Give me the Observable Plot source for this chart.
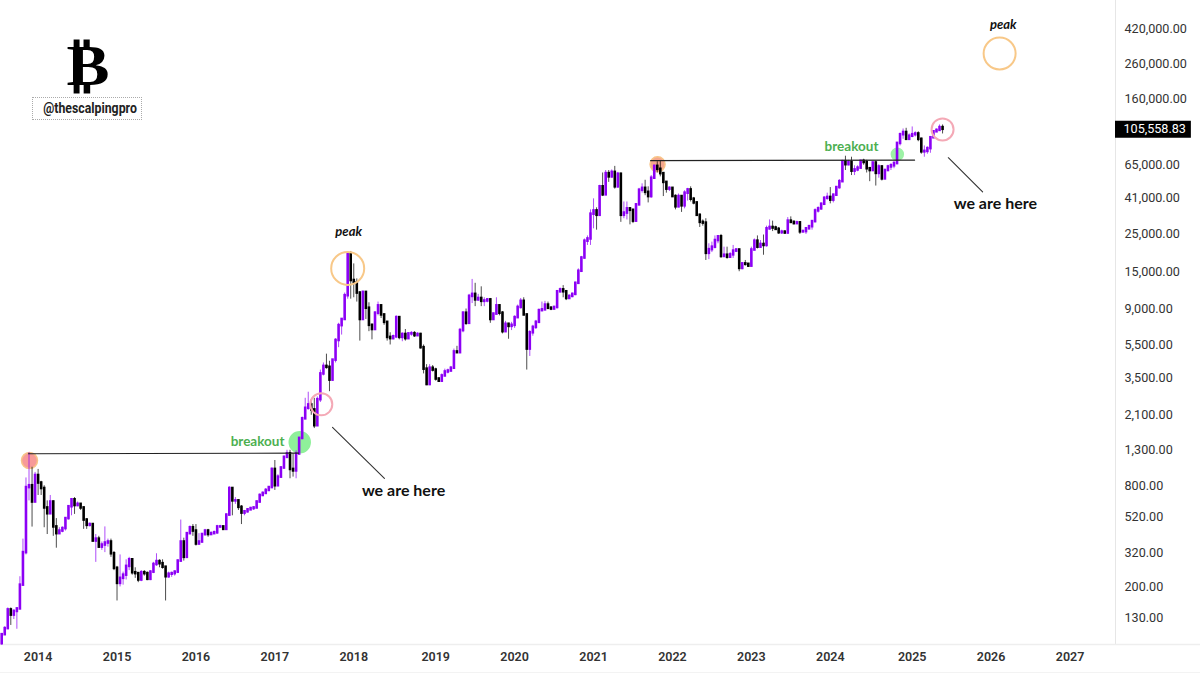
<!DOCTYPE html>
<html><head><meta charset="utf-8">
<script src="https://cdn.jsdelivr.net/npm/d3@7"></script>
<script src="https://cdn.jsdelivr.net/npm/@observablehq/plot@0.6"></script>
<style>
html,body{margin:0;padding:0;background:#fff}
#wrap{position:relative;width:1200px;height:676px;overflow:hidden}
#logo{position:absolute;left:52px;top:39px;width:72px;height:54px;text-align:center;font:700 56px/54px "DejaVu Sans";color:#000;transform:scaleX(1.15)}
#handle{position:absolute;left:32px;top:97px;width:108px;height:21px;border:1px dotted #aaa;text-align:center;font:700 15px/21px "Roboto";color:#222;white-space:nowrap}
#handle span{display:inline-block;transform:scaleX(.82);transform-origin:center}
</style></head><body><div id="wrap"><div id="logo">₿</div><div id="handle"><span>@thescalpingpro</span></div></div>
<script>
const firstOpen = 92;
const closes = [
104,113,146,136,143,148,205,320,780,800,
640,920,830,770,590,545,640,455,415,430,
445,510,600,660,610,620,590,500,465,470,
375,385,345,355,365,370,315,258,210,225,
235,265,290,243,240,220,243,240,222,245,
272,283,275,262,230,238,240,245,285,370,
300,415,450,430,360,370,410,430,410,415,
420,455,455,440,535,770,650,650,595,550,
560,575,585,590,640,700,720,750,780,1000,
800,900,1020,1180,1240,1000,980,1235,1530,2000,
2310,2420,2260,1820,2600,3700,4100,4050,3400,4470,
5850,7170,7800,10800,19000,13300,12900,11200,7800,11300,
9100,7200,6800,8500,9400,8300,7500,6100,6000,6150,
8000,6100,6350,6000,6400,6420,6250,6350,5300,3950,
3200,4000,3900,3450,3350,3600,3800,3850,4000,5000,
4950,6700,8500,7400,10700,11000,10200,10400,10000,10050,
10200,7800,8400,9400,8500,6600,7300,7100,7200,8000,
9200,10000,8300,5200,6500,7000,7500,8800,8900,9500,
9100,9000,9200,11400,11700,11400,10400,10700,11000,12800,
15100,18100,22800,23500,33000,34500,32500,48000,43000,57500,
55000,58500,48000,57000,32500,33500,35500,34800,30000,37500,
45800,47000,44500,42000,54000,63500,61000,57500,51000,46500,
47000,42000,36500,42000,37000,44000,46000,40500,38500,32500,
29500,29200,19300,20300,21000,23000,24200,18500,18800,18300,
18900,19900,20200,15700,16700,16600,16200,20200,22800,21000,
21800,21500,27000,27500,27300,26800,25600,25800,25500,30000,
29500,29000,29300,25900,26000,27000,27800,29800,34500,35500,
37800,41000,41500,40000,42800,47500,51500,67700,65000,67000,
59500,60500,62000,68000,67000,61500,60000,66500,57700,63000,
53500,60000,63000,64000,66000,87000,98000,101000,92000,96000,
98000,99000,92000,77500,78000,81000,94000,102000,104000,108000,105558.83];
const highs = [
105,116,150,150,146,150,230,385,890,1260,
1030,960,1000,850,800,650,700,650,510,450,
455,515,610,670,680,640,625,600,510,480,
475,410,400,370,455,385,385,325,265,310,
245,290,300,295,260,240,250,250,245,250,
280,315,290,290,265,245,245,250,290,500,
390,420,460,470,470,415,415,440,440,425,
430,465,465,460,545,790,780,680,660,610,
570,585,595,600,650,715,735,770,790,1020,
1130,930,1040,1200,1300,1300,1240,1290,1550,2050,
2650,2880,2600,2650,2700,3900,4300,4850,4400,4500,
6000,7400,7900,11200,19600,19800,16700,13600,11400,11500,
11300,9800,7300,8700,9900,9500,8400,7500,6500,6300,
8200,8000,6500,6800,6500,6600,6600,6500,6450,5500,
4200,4200,4150,4000,3500,3700,3950,3950,4100,5200,
5400,6900,8700,9000,11000,13500,12800,11000,12200,10500,
10400,10400,8500,10500,9500,8700,7600,7400,7500,8200,
9500,10400,10500,8400,6700,7200,7700,9000,9900,10000,
9900,9300,9300,11500,12000,12400,11500,10900,11200,13000,
15600,18500,23500,24500,35000,40700,36000,49000,58000,60000,
60000,60500,63500,58500,58000,39000,39000,35600,35000,38000,
47000,50000,52500,48000,56000,64500,67700,68500,58000,51000,
48000,47500,43000,43500,42500,45500,47000,48000,41500,38800,
33000,30500,31000,22000,22500,24500,24500,25000,21000,21000,
19500,21500,20500,20400,17000,17500,16800,21000,23500,24500,
23000,24800,28000,30500,30000,28000,27500,26500,26300,31500,
31800,30000,30000,29500,26500,27500,28300,30000,35500,36500,
38500,42000,44000,47500,43500,48000,53000,69000,73000,69000,
72000,64000,64000,69000,70000,69000,62500,67500,68500,65000,
64000,61000,64500,66000,68000,88000,100000,106000,107000,99000,
109000,102000,102000,93500,84000,83000,95000,103000,106000,112000,112000];
const lows = [
90,104,113,118,128,112,148,205,310,650,
454,640,700,700,450,410,540,400,340,410,
420,430,500,530,540,600,570,440,440,455,
370,280,340,330,320,345,300,250,165,200,
205,220,250,235,225,212,215,232,218,218,
240,265,260,255,165,225,228,232,240,280,
285,300,410,400,350,355,365,400,395,405,
410,410,445,435,435,530,530,620,570,470,
530,550,570,570,585,630,690,710,740,770,
750,790,890,1000,1170,880,900,880,1230,1500,
2000,2250,2100,1750,1800,2500,3600,3950,2900,3350,
4300,5300,6300,7800,10300,10300,10500,9900,5800,7700,
7800,6600,5900,6800,8200,7900,7200,5800,5500,5900,
6000,5900,5750,5800,5950,6200,6100,6200,5200,3700,
3150,3150,3800,3350,3300,3300,3550,3700,3800,3950,
4900,4950,6500,7200,7400,9700,9300,10000,9300,9300,
9800,7400,7700,8300,8200,6400,6600,5950,6700,6900,
7900,9000,8200,3900,4700,6200,6800,7400,8700,8800,
8900,8800,8900,9000,11200,10500,10100,10300,10500,10800,
12700,15000,17800,21500,21500,27000,26500,32000,42000,42800,
51000,54000,46500,47000,29500,31000,30500,28500,29000,29500,
37000,44000,42500,38500,41000,53500,58000,55000,42000,44000,
45000,41500,35000,36000,33800,35500,39500,39000,37500,32000,
27500,28000,17500,17700,19500,20500,22000,18000,18200,17800,
18000,18000,19500,15000,15400,16200,15900,16000,20000,20500,
20800,18800,21000,26500,26000,26500,25000,25000,25000,25000,
29000,28500,28800,25000,25500,25000,26700,26500,29300,33500,
34800,37500,40000,38000,38500,42000,46500,51000,60000,64000,
56000,56000,59000,61500,64500,58000,51500,59500,48500,54000,
52000,53000,59500,60000,61500,65000,84000,92000,91000,91000,
94000,95000,89000,75000,72000,75000,76000,93000,101000,103000,99000];

const yearBars = [12,38,64,90,116,143,169,195,221,247,273,300,326,352];
const yearLabels = ["2014","2015","2016","2017","2018","2019","2020","2021","2022","2023","2024","2025","2026","2027"];
const priceTicks = [420000,260000,160000,65000,41000,25000,15000,9000,5500,3500,2100,1300,800,520,320,200,130];
const lastPrice = 105558.83;

// annotations, in bar number and price
const levelLines = [
  [{i:8.8,p:1240},{i:97.8,p:1250}],
  [{i:213.8,p:68700},{i:300.8,p:69200}]
];
const pointerLines = [
  [{i:109,p:1780},{i:126.1,p:885}],
  [{i:311.9,p:71500},{i:323.2,p:44800}]
];
const filledSpots = [
  {i:9.16,p:1130,r:8,fill:"#f79a98",stroke:"#f8c488"},
  {i:216.1,p:65300,r:7.5,fill:"#f5a78e",stroke:"#f8c488"},
  {i:98.2,p:1450,r:10.5,fill:"#8ff09a",stroke:"#8ff09a"},
  {i:295.1,p:74900,r:6,fill:"#9df2a6",stroke:"#9df2a6"}
];
const ringSpots = [
  {i:105.3,p:2440,r:11,stroke:"#f4a9b6"},
  {i:310,p:105400,r:11,stroke:"#f4a9b6"},
  {i:114,p:15700,r:16.5,stroke:"#f8c888"},
  {i:328.8,p:298000,r:16,stroke:"#f8c888"}
];
const peakNotes = [{i:114.3,p:26000,t:"peak"},{i:330,p:440000,t:"peak"}];
const breakoutNotes = [{i:84.3,p:1470,t:"breakout"},{i:280,p:83500,t:"breakout"}];
const hereNotes = [{i:132.4,p:745,t:"we are here"},{i:327.4,p:38200,t:"we are here"}];

const bars = closes.map((c,i)=>{
  const o = i ? closes[i-1] : firstOpen;
  return {i,o,c,h:highs[i],l:lows[i],up:c>=o};
});
const UP="#8c00f5", DOWN="#000000";
const fmt = d3.format(",.2f");
const xStart = -0.395, xEnd = 366.98;

const chart = Plot.plot({
  width:1200,height:676,
  marginLeft:0,marginRight:85,marginTop:0,marginBottom:32,
  style:{background:"transparent",overflow:"visible"},
  x:{type:"linear",domain:[xStart,xEnd],axis:null},
  y:{type:"log",domain:[90.9,616000],axis:null},
  r:{type:"identity"},
  marks:[
    Plot.ruleX([xEnd],{stroke:"#e6e6e6"}),
    Plot.ruleY([90.9],{stroke:"#eeeeee",strokeWidth:1.5,x1:xStart,x2:xEnd+28}),
    Plot.ruleY([90.9],{stroke:"#f3f3f3",dy:28,x1:xStart,x2:xEnd+28}),
    Plot.dot(filledSpots,{x:"i",y:"p",r:"r",fill:"fill",stroke:"stroke",strokeWidth:1.5}),
    Plot.ruleX(bars,{x:"i",y1:"l",y2:"h",stroke:d=>d.up?UP:DOWN,strokeWidth:1,strokeOpacity:.7}),
    Plot.ruleX(bars,{x:"i",y1:"o",y2:"c",stroke:d=>d.up?UP:DOWN,strokeWidth:2.6,strokeLinecap:"square"}),
    ...levelLines.map(l=>Plot.line(l,{x:"i",y:"p",stroke:"#222",strokeWidth:1.1})),
    ...pointerLines.map(l=>Plot.line(l,{x:"i",y:"p",stroke:"#333",strokeWidth:1.1})),
    Plot.dot(ringSpots,{x:"i",y:"p",r:"r",stroke:"stroke",fill:"none",strokeWidth:2}),
    Plot.text(peakNotes,{x:"i",y:"p",text:"t",fontFamily:"Lato",fontWeight:700,fontStyle:"italic",fontSize:13,fill:"#111"}),
    Plot.text(breakoutNotes,{x:"i",y:"p",text:"t",fontFamily:"Lato",fontWeight:700,fontSize:13.5,fill:"#4caf50"}),
    Plot.text(hereNotes,{x:"i",y:"p",text:"t",fontFamily:"Lato",fontWeight:700,fontSize:16,fill:"#111"}),
    Plot.axisX({ticks:yearBars,tickSize:0,tickPadding:8,label:null,anchor:"bottom",
      tickFormat:d=>yearLabels[yearBars.indexOf(d)],fontFamily:"Roboto",fontWeight:600,fontSize:12.5,fill:"#333"}),
    Plot.text(priceTicks,{x:xEnd,y:d=>d,text:d=>fmt(d),textAnchor:"start",dx:9,fontFamily:"Roboto",fontSize:12.6,fill:"#333"}),
    Plot.ruleY([lastPrice],{x1:xEnd,x2:xEnd+25,stroke:"#000",strokeWidth:17}),
    Plot.text([lastPrice],{x:xEnd,y:d=>d,text:d=>fmt(d),textAnchor:"start",dx:8,fill:"#fff",fontFamily:"Roboto",fontSize:12.6})
  ]
});
document.getElementById("wrap").prepend(chart);
chart.style.position="absolute";chart.style.left="0";chart.style.top="0";
</script></body></html>
